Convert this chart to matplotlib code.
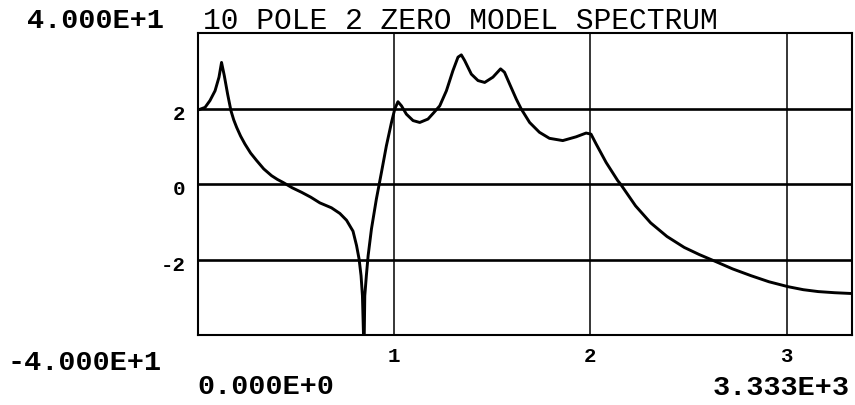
import matplotlib
matplotlib.use("Agg")
import matplotlib.pyplot as plt
from matplotlib.transforms import ScaledTranslation

# ---- data ----
freq_hz = [0, 36, 61, 87, 107, 120, 134, 151, 168, 182, 197, 217, 239, 268, 299,
           335, 375, 405, 434, 480, 528, 575, 621, 680, 723, 757, 790, 808, 821,
           831, 838, 846, 850, 858, 867, 884, 909, 935, 960, 986, 1003, 1019,
           1037, 1062, 1096, 1130, 1172, 1200, 1232, 1266, 1299, 1325, 1342,
           1359, 1393, 1427, 1461, 1503, 1542, 1562, 1588, 1622, 1647, 1690,
           1740, 1791, 1859, 1927, 1978, 2003, 2029, 2080, 2139, 2153, 2230,
           2307, 2390, 2478, 2555, 2632, 2725, 2819, 2910, 3007, 3085, 3161,
           3245, 3327]
level_db = [19.6, 20.3, 22.1, 24.7, 28.3, 32.2, 28.7, 23.8, 19.4, 17.0, 15.0,
            12.7, 10.6, 8.2, 6.2, 4.0, 2.2, 1.2, 0.4, -1.0, -2.2, -3.5, -5.0,
            -6.3, -7.8, -9.6, -12.5, -16.3, -19.9, -24.3, -29.6, -45.0, -29.6,
            -24.3, -19.0, -11.9, -4.0, 3.1, 10.1, 16.3, 19.9, 21.8, 20.7, 18.5,
            16.8, 16.3, 17.2, 18.8, 20.7, 24.7, 30.0, 33.6, 34.2, 32.7, 29.1,
            27.4, 26.9, 28.3, 30.5, 29.6, 26.5, 22.5, 19.9, 16.3, 13.7, 12.1,
            11.5, 12.5, 13.5, 13.2, 10.6, 5.7, 0.9, 0.0, -5.8, -10.3, -13.9,
            -16.8, -18.7, -20.4, -22.5, -24.3, -25.9, -27.2, -28.0, -28.5,
            -28.8, -29.0]

x_ticks = [1000, 2000, 3000]
x_tick_labels = ["1", "2", "3"]
y_ticks = [20, 0, -20]
y_tick_labels = ["2", "0", "-2"]
x_min, x_max = 0, 3333
y_min, y_max = -40, 40

title = "10 POLE 2 ZERO MODEL SPECTRUM"
y_max_label = "4.000E+1"
y_min_label = "-4.000E+1"
x_min_label = "0.000E+0"
x_max_label = "3.333E+3"

W, H = 855, 406
fig = plt.figure(figsize=(W / 100, H / 100), dpi=100)
FONT = "Liberation Mono"

ax_left, ax_right, ax_top, ax_bottom = 198, 852, 34, 336
ax = fig.add_axes([ax_left / W, 1 - ax_bottom / H,
                   (ax_right - ax_left) / W, (ax_bottom - ax_top) / H])
ax.set_xlim(x_min, x_max)
ax.set_ylim(y_min, y_max)

for yv in y_ticks:
    ax.axhline(yv, color="black", lw=1.9, zorder=2)
for xv in x_ticks:
    ax.axvline(xv, color="black", lw=1.1, zorder=2)

ax.plot(freq_hz, level_db, color="black", lw=2.1, zorder=3,
        solid_joinstyle="round", solid_capstyle="round")

for sp in ax.spines.values():
    sp.set_linewidth(1.5)
    sp.set_color("black")

ax.set_xticks(x_ticks)
ax.set_xticklabels(x_tick_labels, fontfamily=FONT, fontweight="bold", fontsize=15)
ax.set_yticks(y_ticks)
ax.set_yticklabels(y_tick_labels, fontfamily=FONT, fontweight="bold", fontsize=15)
ax.tick_params(axis="x", length=0, pad=8)
ax.tick_params(axis="y", length=0, pad=9)
for lab in ax.get_yticklabels():
    lab.set_transform(lab.get_transform() + ScaledTranslation(0, -3 / 100, fig.dpi_scale_trans))

def px(x, y):
    return x / W, 1 - y / H

fig.text(*px(203, 21), title, fontfamily=FONT, fontsize=21.3, ha="left", va="center")
fig.text(*px(27, 21), y_max_label, fontfamily=FONT, fontsize=20.5, fontweight="bold",
         ha="left", va="center")
fig.text(*px(7, 363), y_min_label, fontfamily=FONT, fontsize=20.5, fontweight="bold",
         ha="left", va="center")
fig.text(*px(197, 387), x_min_label, fontfamily=FONT, fontsize=20.5, fontweight="bold",
         ha="left", va="center")
fig.text(*px(850, 388), x_max_label, fontfamily=FONT, fontsize=20.5, fontweight="bold",
         ha="right", va="center")

fig.savefig("out.png", dpi=100)
